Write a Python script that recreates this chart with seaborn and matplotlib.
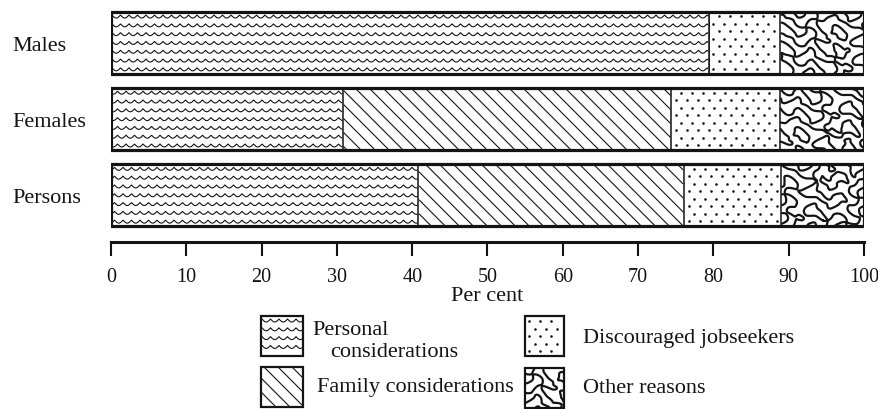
import numpy as np
import pandas as pd
import seaborn as sns
import matplotlib
matplotlib.use('Agg')
import matplotlib.pyplot as plt
from matplotlib.patches import Rectangle
import contourpy

# values (per cent of each group)
groups = ['Males', 'Females', 'Persons']
personal = [79.4, 30.8, 40.8]
family = [0.0, 43.6, 35.3]
discouraged = [9.5, 14.4, 12.9]
other = [11.1, 11.2, 11.0]

reasons = ['personal', 'family', 'discouraged', 'other']
kinds = ['wave', 'diag', 'dots', 'marble']
xticks = list(range(0, 101, 10))

INK = '#141414'
W, H = 879, 410
BAR_W = 0.81


def texture(kind, w, h, seed=0.0):
    """Fill pattern for a w x h pixel box (y up). Returns polylines and dots."""
    lines, dots = [], []
    if kind == 'wave':
        period, amp, gap = 8.5, 3.0, 8.8
        xs = np.linspace(0, w, int(w * 3) + 2)
        y = h - 2.0
        while y - amp > 0.5:
            lines.append(np.column_stack([xs, y - amp * np.abs(np.sin(np.pi * (xs + seed) / period))]))
            y -= gap
    elif kind == 'diag':
        gap = 14.0
        c = (seed % gap) + 2.0
        while c < w + h:
            x0, x1 = max(0.0, c - h), min(w, c)
            if x1 > x0:
                lines.append(np.array([[x0, c - x0], [x1, c - x1]]))
            c += gap
    elif kind == 'dots':
        dx, dy = 11.0, 7.5
        y, row = dy / 2, 0
        while y < h:
            x = dx / 2 + (dx / 2 if row % 2 else 0.0) - 2.0
            while x < w - 1:
                if x > 1:
                    dots.append((x, y))
                x += dx
            y += dy
            row += 1
    elif kind == 'marble':
        gx = np.linspace(0, w, int(w * 2) + 1)
        gy = np.linspace(0, h, int(h * 2) + 1)
        X, Y = np.meshgrid(gx + seed, gy + seed * 0.7)
        Z = (np.sin(Y / 3.2 + 1.6 * np.sin(X / 4.1) + 0.25 * X / 3.0)
             + 0.8 * np.sin(X / 3.6 + 1.4 * np.sin(Y / 2.9))
             + 0.5 * np.sin((X + 2.0 * Y) / 5.3))
        for seg in contourpy.contour_generator(gx, gy, Z).lines(0.15):
            if len(seg) > 8:
                lines.append(np.asarray(seg))
    return lines, np.array(dots).reshape(-1, 2)


def draw_texture(target, kind, left, bottom, w, h, seed=0.0, to_data=None, z=3):
    lines, dots = texture(kind, w, h, seed)
    lw = 1.6 if kind == 'marble' else 0.8
    for seg in lines:
        pts = seg + [left, bottom]
        if to_data is not None:
            pts = to_data(pts)
        target.plot(pts[:, 0], pts[:, 1], color=INK, lw=lw, solid_capstyle='round', zorder=z)
    if len(dots):
        pts = dots + [left, bottom]
        if to_data is not None:
            pts = to_data(pts)
        target.scatter(pts[:, 0], pts[:, 1], s=3.5, color=INK, linewidths=0, zorder=z)


df = pd.DataFrame({'group': groups, 'personal': personal, 'family': family,
                   'discouraged': discouraged, 'other': other})
cum = df[reasons].cumsum(axis=1)
cum['group'] = df['group']

sns.set_theme(style='white')
plt.rcParams['font.family'] = ['Liberation Serif', 'DejaVu Serif']

fig = plt.figure(figsize=(W / 100, H / 100), dpi=100)
ax = fig.add_axes([111 / W, (H - 243) / H, (864 - 111) / W, (243 - 9.6) / H])

# stacked bars: cumulative layers, longest first
for col in reversed(reasons):
    sns.barplot(data=cum, x=col, y='group', orient='h', color='white', saturation=1,
                edgecolor=INK, linewidth=1.1, width=BAR_W, ax=ax, zorder=2)

# thick frame round each whole bar
sns.barplot(data=cum, x='other', y='group', orient='h', color='white', saturation=1,
            edgecolor=INK, linewidth=2.3, width=BAR_W, ax=ax, zorder=5)
for p in ax.containers[-1]:
    p.set_facecolor('none')

ax.set_xlim(0, 100)
ax.set_ylim(2.615, -0.45)

to_data = ax.transData.inverted().transform
for i in range(len(groups)):
    start = 0.0
    for j, col in enumerate(reasons):
        end = cum.loc[i, col]
        if end - start > 0.05:
            (px0, py0) = ax.transData.transform((start, i + BAR_W / 2))
            (px1, py1) = ax.transData.transform((end, i - BAR_W / 2))
            draw_texture(ax, kinds[j], px0 + 1, py0 + 1, px1 - px0 - 2, py1 - py0 - 2,
                         seed=i * 37.0 + j * 5, to_data=to_data)
        start = end

ax.set_xticks(xticks)
ax.set_xticklabels([str(t) for t in xticks])
ax.tick_params(axis='x', direction='out', bottom=True, length=10, width=1.5, color=INK,
               labelsize=14.5, labelcolor=INK, pad=8)
ax.tick_params(axis='y', length=0, labelsize=16, labelcolor=INK, pad=(111 - 12) * 0.72)
for lbl in ax.get_yticklabels():
    lbl.set_ha('left')
for s in ['top', 'right', 'left']:
    ax.spines[s].set_visible(False)
ax.spines['bottom'].set_linewidth(2.2)
ax.spines['bottom'].set_color(INK)
ax.set_xlabel('Per cent', fontsize=16, color=INK, labelpad=0)
ax.set_ylabel('')

# legend drawn on a pixel-space overlay
lax = fig.add_axes([0, 0, 1, 1], zorder=10)
lax.set_xlim(0, W)
lax.set_ylim(0, H)
lax.axis('off')

keys = [(261, 317, 42, 40), (261, 368, 42, 40), (525, 317, 39, 40), (525, 369, 39, 40)]
for j, (kx, ktop, kw, kh) in enumerate(keys):
    bottom = H - ktop - kh
    lax.add_patch(Rectangle((kx, bottom), kw, kh, facecolor='white', edgecolor=INK, lw=1.6, zorder=4))
    draw_texture(lax, kinds[j], kx + 1, bottom + 1, kw - 2, kh - 2, seed=11.0 * j, z=6)

legend_texts = [('Personal', 312, 335), ('considerations', 330, 357),
                ('Family considerations', 317, 392), ('Discouraged jobseekers', 583, 343),
                ('Other reasons', 583, 393)]
for txt, tx, ty in legend_texts:
    lax.text(tx, H - ty, txt, fontsize=16, color=INK, ha='left', va='baseline')

fig.savefig('out.png', dpi=100, facecolor='white')
